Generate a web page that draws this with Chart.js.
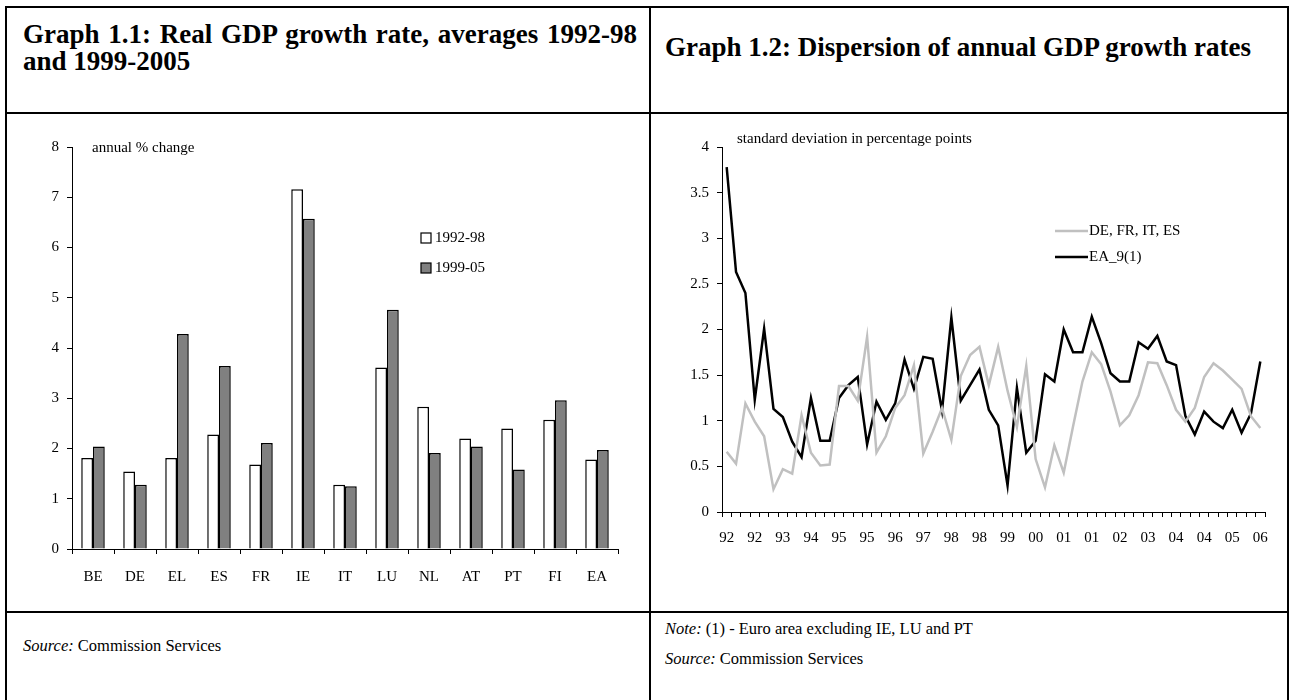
<!DOCTYPE html>
<html>
<head>
<meta charset="utf-8">
<script src="https://cdn.jsdelivr.net/npm/chart.js@4.4.0/dist/chart.umd.min.js"></script>
<style>
  body { margin: 0; background: #fff; font-family: "Liberation Serif", "Times New Roman", serif; color: #000; }
  .line { position: absolute; background: #000; }
  .title { position: absolute; font-weight: bold; font-size: 27px; line-height: 27px; }
  .foot { position: absolute; font-size: 16.5px; }
  canvas { position: absolute; }
</style>
</head>
<body>

<!-- table frame -->
<div class="line" style="left:5px;top:6px;width:1284px;height:2px"></div>
<div class="line" style="left:5px;top:6px;width:2px;height:700px"></div>
<div class="line" style="left:1287px;top:6px;width:2px;height:700px"></div>
<div class="line" style="left:649px;top:6px;width:2px;height:700px"></div>
<div class="line" style="left:5px;top:112px;width:1284px;height:2px"></div>
<div class="line" style="left:5px;top:611px;width:1284px;height:2px"></div>

<div class="title" style="left:23px;top:21px;width:614px;text-align:justify;text-align-last:left">Graph 1.1: Real GDP growth rate, averages 1992-98 and 1999-2005</div>
<div class="title" style="left:665px;top:34px;white-space:nowrap">Graph 1.2: Dispersion of annual GDP growth rates</div>

<div class="foot" style="left:23px;top:636px"><i>Source:</i> Commission Services</div>
<div class="foot" style="left:665px;top:619px"><i>Note:</i> (1) - Euro area excluding IE, LU and PT</div>
<div class="foot" style="left:665px;top:649px"><i>Source:</i> Commission Services</div>

<canvas id="gdpBars" width="640" height="495" style="left:8px;top:115px"></canvas>
<canvas id="dispersion" width="634" height="495" style="left:652px;top:115px"></canvas>

<script>
// Graph 1.1 data
const countries = ['BE', 'DE', 'EL', 'ES', 'FR', 'IE', 'IT', 'LU', 'NL', 'AT', 'PT', 'FI', 'EA'];
const avg1992_98 = [1.81, 1.54, 1.81, 2.28, 1.68, 7.16, 1.28, 3.61, 2.83, 2.20, 2.40, 2.57, 1.78];
const avg1999_05 = [2.04, 1.28, 4.28, 3.64, 2.11, 6.57, 1.25, 4.76, 1.91, 2.04, 1.58, 2.96, 1.97];

// Graph 1.2 data (quarterly, 1992Q1 - 2006Q2)
const quarters = [
    '92Q1', '92Q2', '92Q3', '92Q4', '93Q1', '93Q2', '93Q3', '93Q4',
    '94Q1', '94Q2', '94Q3', '94Q4', '95Q1', '95Q2', '95Q3', '95Q4',
    '96Q1', '96Q2', '96Q3', '96Q4', '97Q1', '97Q2', '97Q3', '97Q4',
    '98Q1', '98Q2', '98Q3', '98Q4', '99Q1', '99Q2', '99Q3', '99Q4',
    '00Q1', '00Q2', '00Q3', '00Q4', '01Q1', '01Q2', '01Q3', '01Q4',
    '02Q1', '02Q2', '02Q3', '02Q4', '03Q1', '03Q2', '03Q3', '03Q4',
    '04Q1', '04Q2', '04Q3', '04Q4', '05Q1', '05Q2', '05Q3', '05Q4',
    '06Q1', '06Q2'
];
// one label every third quarter
const yearTicks = ['92', '92', '93', '94', '95', '95', '96', '97', '98', '98',
                   '99', '00', '01', '01', '02', '03', '04', '04', '05', '06'];
const bigFour = [
    0.66, 0.53, 1.19, 0.99, 0.83, 0.25, 0.47, 0.42, 1.06, 0.65,
    0.51, 0.52, 1.38, 1.38, 1.22, 1.92, 0.65, 0.83, 1.14, 1.28,
    1.61, 0.64, 0.88, 1.14, 0.79, 1.49, 1.72, 1.81, 1.39, 1.81,
    1.33, 0.93, 1.60, 0.58, 0.27, 0.73, 0.43, 0.94, 1.43, 1.75,
    1.62, 1.32, 0.95, 1.06, 1.28, 1.64, 1.63, 1.39, 1.12, 0.99,
    1.14, 1.48, 1.63, 1.55, 1.45, 1.35, 1.05, 0.92
];
const ea9 = [
    3.78, 2.63, 2.40, 1.23, 2.01, 1.13, 1.04, 0.77, 0.60, 1.25,
    0.78, 0.78, 1.25, 1.39, 1.48, 0.74, 1.21, 1.01, 1.19, 1.67,
    1.35, 1.70, 1.68, 1.11, 2.13, 1.22, 1.39, 1.56, 1.12, 0.95,
    0.29, 1.36, 0.65, 0.78, 1.51, 1.43, 2.00, 1.75, 1.75, 2.14,
    1.85, 1.52, 1.43, 1.43, 1.86, 1.79, 1.93, 1.65, 1.61, 1.05,
    0.85, 1.10, 0.99, 0.92, 1.12, 0.87, 1.08, 1.65
];

const serif = '"Liberation Serif", "Times New Roman", serif';
const tickFont = { family: serif, size: 15 };

Chart.defaults.font.family = serif;
Chart.defaults.color = '#000';
Chart.defaults.animation = false;

// draws the in-plot caption and the legend at spots relative to the chart area
const overlay = {
    id: 'overlay',
    afterDraw(chart, args, opts) {
        const { ctx, chartArea: a } = chart;
        ctx.save();
        ctx.font = `15px ${serif}`;
        ctx.fillStyle = '#000';
        ctx.textBaseline = 'middle';
        ctx.fillText(opts.caption, a.left + opts.capX, a.top + opts.capY);

        opts.keys.forEach((k, i) => {
            const x = a.left + opts.keyX;
            const y = a.top + opts.keyY + i * opts.keyGap;
            if (k.kind === 'box') {
                ctx.fillStyle = k.fill;
                ctx.fillRect(x, y - 5, 10, 10);
                ctx.strokeStyle = '#000';
                ctx.lineWidth = 1.2;
                ctx.strokeRect(x, y - 5, 10, 10);
                ctx.fillStyle = '#000';
                ctx.fillText(k.text, x + 14, y);
            } else {
                ctx.strokeStyle = k.color;
                ctx.lineWidth = 2.5;
                ctx.beginPath();
                ctx.moveTo(x, y);
                ctx.lineTo(x + 33, y);
                ctx.stroke();
                ctx.fillStyle = '#000';
                ctx.fillText(k.text, x + 34, y);
            }
        });
        ctx.restore();
    }
};

new Chart(document.getElementById('gdpBars'), {
    type: 'bar',
    data: {
        labels: countries,
        datasets: [
            { label: '1992-98', data: avg1992_98, backgroundColor: '#ffffff', borderColor: '#000', borderWidth: 1.5 },
            { label: '1999-05', data: avg1999_05, backgroundColor: '#808080', borderColor: '#000', borderWidth: 1.5 }
        ]
    },
    options: {
        responsive: false,
        devicePixelRatio: 1,
        categoryPercentage: 0.56,
        barPercentage: 1.0,
        layout: { padding: { left: 0, top: 32, right: 30, bottom: 21 } },
        plugins: {
            legend: { display: false },
            tooltip: { enabled: false },
            overlay: {
                caption: 'annual % change', capX: 20, capY: 1,
                keyX: 349, keyY: 91, keyGap: 30,
                keys: [
                    { kind: 'box', fill: '#ffffff', text: '1992-98' },
                    { kind: 'box', fill: '#808080', text: '1999-05' }
                ]
            }
        },
        scales: {
            x: {
                grid: { display: true, drawOnChartArea: false, tickLength: 5, color: '#000', offset: true },
                border: { display: true, color: '#000', width: 1 },
                ticks: { font: tickFont, padding: 14, maxRotation: 0 },
                afterFit: s => { s.height = 40; }
            },
            y: {
                min: 0, max: 8,
                grid: { display: true, drawOnChartArea: false, tickLength: 5, color: '#000' },
                border: { display: true, color: '#000', width: 1 },
                ticks: { font: tickFont, stepSize: 1, padding: 8 },
                afterFit: s => { s.width = 64; }
            }
        }
    },
    plugins: [overlay]
});

new Chart(document.getElementById('dispersion'), {
    type: 'line',
    data: {
        labels: quarters,
        datasets: [
            { label: 'DE, FR, IT, ES', data: bigFour, borderColor: '#c0c0c0', borderWidth: 2.5, pointRadius: 0, tension: 0 },
            { label: 'EA_9(1)', data: ea9, borderColor: '#000000', borderWidth: 2.5, pointRadius: 0, tension: 0 }
        ]
    },
    options: {
        responsive: false,
        devicePixelRatio: 1,
        layout: { padding: { left: 0, top: 32, right: 21, bottom: 58 } },
        plugins: {
            legend: { display: false },
            tooltip: { enabled: false },
            overlay: {
                caption: 'standard deviation in percentage points', capX: 15, capY: -8,
                keyX: 333, keyY: 84, keyGap: 26,
                keys: [
                    { kind: 'line', color: '#c0c0c0', text: 'DE, FR, IT, ES' },
                    { kind: 'line', color: '#000000', text: 'EA_9(1)' }
                ]
            }
        },
        scales: {
            x: {
                offset: true,
                grid: { display: true, drawOnChartArea: false, tickLength: 5, color: '#000', offset: true },
                border: { display: true, color: '#000', width: 1 },
                ticks: {
                    font: tickFont, padding: 12, maxRotation: 0, autoSkip: false,
                    callback: (v, i) => (i % 3 === 0 ? yearTicks[i / 3] : '')
                },
                afterFit: s => { s.height = 40; }
            },
            y: {
                min: 0, max: 4,
                grid: { display: true, drawOnChartArea: false, tickLength: 5, color: '#000' },
                border: { display: true, color: '#000', width: 1 },
                ticks: { font: tickFont, stepSize: 0.5, padding: 8, callback: v => String(v) },
                afterFit: s => { s.width = 70; }
            }
        }
    },
    plugins: [overlay]
});
</script>
</body>
</html>
